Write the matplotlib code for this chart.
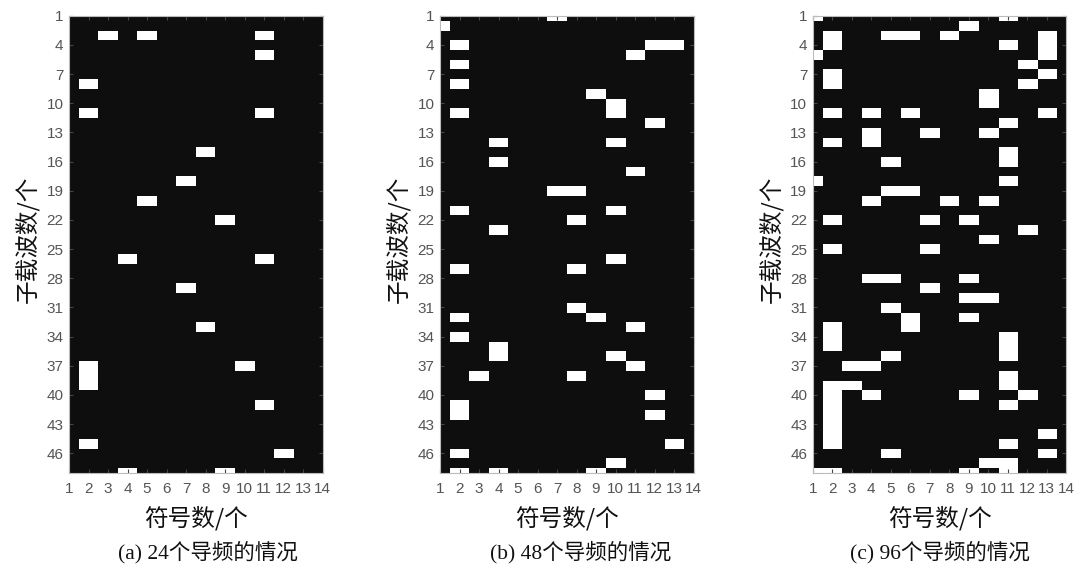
import numpy as np
import matplotlib
matplotlib.use("Agg")
import matplotlib.pyplot as plt
from matplotlib.colors import ListedColormap

# pilot positions (subcarrier row, symbol column)
n_sub = 48
n_sym = 14

pilots_a = [(3, 3), (3, 5), (3, 11), (5, 11), (8, 2), (11, 2), (11, 11), (15, 8),
            (18, 7), (20, 5), (22, 9), (26, 4), (26, 11), (29, 7), (33, 8), (37, 10),
            (37, 2), (38, 2), (39, 2), (41, 11), (45, 2), (46, 12), (48, 4), (48, 9)]

pilots_b = [(1, 7), (2, 1), (4, 2), (6, 2), (8, 2), (11, 2), (14, 4), (16, 4),
            (21, 2), (23, 4), (19, 7), (19, 8), (22, 8), (9, 9), (10, 10), (11, 10),
            (14, 10), (21, 10), (5, 11), (4, 12), (4, 13), (12, 12), (17, 11),
            (27, 2), (27, 8), (26, 10), (31, 8), (32, 9), (32, 2), (33, 11), (34, 2),
            (35, 4), (36, 4), (36, 10), (37, 11), (38, 3), (38, 8), (40, 12), (42, 12),
            (41, 2), (42, 2), (45, 13), (46, 2), (47, 10), (48, 2), (48, 4), (48, 9)]

pilots_c = [(1, 1), (1, 11), (2, 9), (3, 2), (4, 2), (3, 5), (3, 6), (3, 8), (4, 11),
            (3, 13), (4, 13), (5, 13), (5, 1), (6, 12), (7, 13), (8, 12), (7, 2), (8, 2),
            (9, 10), (10, 10), (11, 2), (11, 4), (11, 6), (11, 13), (12, 11), (13, 4),
            (14, 4), (13, 7), (13, 10), (14, 2), (16, 5), (15, 11), (16, 11), (18, 1),
            (18, 11), (19, 5), (19, 6), (20, 4), (20, 8), (20, 10), (22, 2), (22, 7),
            (22, 9), (23, 12), (24, 10),
            (25, 2), (25, 7), (28, 4), (28, 5), (28, 9), (29, 7), (30, 9), (30, 10),
            (31, 5), (32, 6), (33, 6), (32, 9), (33, 2), (34, 2), (35, 2), (34, 11),
            (35, 11), (36, 11), (36, 5), (37, 3), (37, 4), (39, 2), (40, 2), (41, 2),
            (42, 2), (43, 2), (44, 2), (45, 2), (39, 3), (40, 4), (38, 11), (39, 11),
            (40, 12), (41, 11), (40, 9), (44, 13), (45, 11), (46, 13), (46, 5),
            (47, 10), (47, 11), (48, 1), (48, 2), (48, 9), (48, 11)]

captions = ["(a) 24个导频的情况", "(b) 48个导频的情况", "(c) 96个导频的情况"]
caption_x = [208, 581, 940]
xticks = list(range(1, 15))
yticks = list(range(1, 47, 3))

cjk = ["Noto Sans CJK SC", "DejaVu Sans"]
serif_cjk = ["Liberation Serif", "Noto Sans CJK SC"]

fig = plt.figure(figsize=(10.8, 5.72), dpi=100)
lefts = [69, 440, 812.8]
cmap = ListedColormap(["#0e0e0e", "#ffffff"])

for k, pilots in enumerate([pilots_a, pilots_b, pilots_c]):
    grid = np.zeros((n_sub, n_sym))
    for r, c in pilots:
        grid[r - 1, c - 1] = 1

    ax = fig.add_axes([lefts[k] / 1080, (572 - 472.7) / 572, 253.5 / 1080, 456.9 / 572])
    ax.imshow(grid, cmap=cmap, vmin=0, vmax=1, interpolation="nearest", aspect="auto",
              extent=(0.5, n_sym + 0.5, n_sub + 0.5, 0.5))
    ax.set_xlim(1, n_sym)
    ax.set_ylim(n_sub, 1)
    ax.set_xticks(xticks)
    ax.set_yticks(yticks)
    ax.tick_params(direction="in", length=3, width=0.8, color="#444444",
                   top=True, right=True, labelcolor="#555555", labelsize=11)
    ax.tick_params(axis="x", pad=7)
    ax.tick_params(axis="y", pad=4)
    for lab in ax.get_xticklabels() + ax.get_yticklabels():
        lab.set_family("Liberation Sans")
    for sp in ax.spines.values():
        sp.set_color("#bbbbbb")
        sp.set_linewidth(0.8)

    ax.set_ylabel("子载波数/个", family=cjk, fontsize=17, color="#111111")
    ax.yaxis.set_label_coords(-0.166, 0.51)
    ax.yaxis.label.set_va("center")
    ax.set_xlabel("符号数/个", family=cjk, fontsize=17, color="#111111")
    ax.xaxis.set_label_coords(0.5, -0.1)
    ax.xaxis.label.set_va("center")

    fig.text(caption_x[k] / 1080, 1 - 552 / 572, captions[k], family=serif_cjk,
             fontsize=15.5, ha="center", va="center", color="#111111")

fig.savefig("out.png", dpi=100)
